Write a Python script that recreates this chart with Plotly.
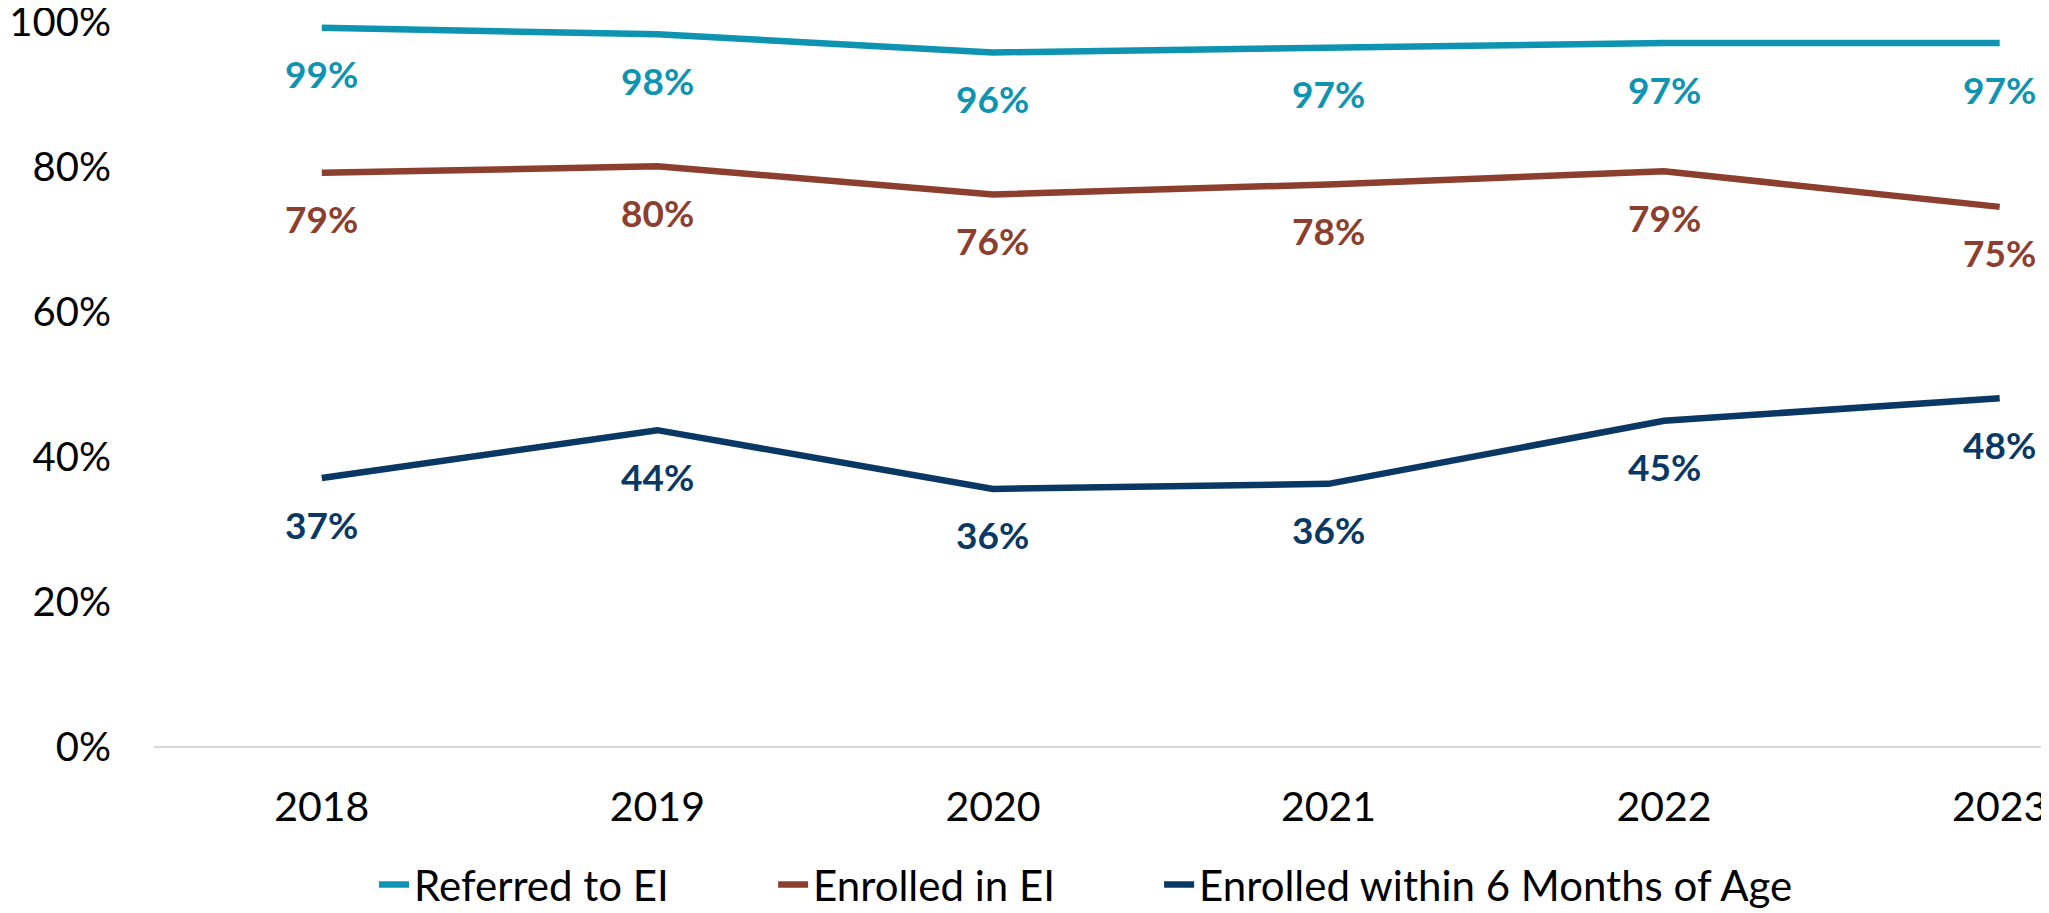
import plotly.graph_objects as go

# values
years = [2018, 2019, 2020, 2021, 2022, 2023]
referred = [99.2, 98.3, 95.8, 96.5, 97.1, 97.1]
enrolled = [79.2, 80.1, 76.2, 77.6, 79.4, 74.5]
enrolled_6mo = [37.1, 43.7, 35.6, 36.3, 45.0, 48.1]
referred_labels = ["99%", "98%", "96%", "97%", "97%", "97%"]
enrolled_labels = ["79%", "80%", "76%", "78%", "79%", "75%"]
enrolled_6mo_labels = ["37%", "44%", "36%", "36%", "45%", "48%"]

FONT = "Lato, Open Sans, sans-serif"

series = [
    ("Referred to EI", referred, referred_labels, "#0E94B0", "legend", 0.1161),
    ("Enrolled in EI", enrolled, enrolled_labels, "#8C3F2E", "legend2", 0.3267),
    ("Enrolled within 6 Months of Age", enrolled_6mo, enrolled_6mo_labels, "#0A3864", "legend3", 0.5304),
]

fig = go.Figure()
annotations = []
legends = {}
for name, vals, labels, color, leg, legx in series:
    fig.add_trace(
        go.Scatter(
            x=years,
            y=vals,
            name=name,
            mode="lines",
            line=dict(color=color, width=6.5),
            legend=leg,
        )
    )
    # data labels sit under each point
    for yr, v, lab in zip(years, vals, labels):
        annotations.append(
            dict(
                x=yr,
                y=v,
                text=f"<b>{lab}</b>",
                showarrow=False,
                yshift=-46,
                font=dict(family=FONT, size=37, color=color),
            )
        )
    legends[leg] = dict(
        orientation="h",
        x=legx,
        xanchor="left",
        xref="paper",
        y=-0.19,
        yref="paper",
        yanchor="middle",
        font=dict(family=FONT, size=42),
        bgcolor="rgba(0,0,0,0)",
    )

# page body has an 8px margin, so the figure is 8px smaller than the window
fig.update_layout(
    width=2041,
    height=905,
    margin=dict(l=146, r=0, t=14, b=166, autoexpand=False),
    plot_bgcolor="white",
    paper_bgcolor="white",
    font=dict(family=FONT, size=42, color="black"),
    annotations=annotations,
    showlegend=True,
    **legends,
)

fig.update_xaxes(
    range=[2017.5, 2023.147],
    tickvals=years,
    ticktext=[str(y) for y in years],
    showgrid=False,
    showline=False,
    zeroline=False,
    ticks="",
    ticklabelstandoff=32,
    ticklabeloverflow="allow",
    automargin=False,
    tickfont=dict(size=41),
)
fig.update_yaxes(
    range=[0, 100],
    tickvals=[0, 20, 40, 60, 80, 100],
    ticktext=["0%", "20%", "40%", "60%", "80%", "100%"],
    showgrid=False,
    zeroline=True,
    zerolinecolor="#D9D9D9",
    zerolinewidth=2,
    showline=False,
    ticks="",
    ticklabelstandoff=42,
    ticklabeloverflow="allow",
    automargin=False,
    tickfont=dict(size=40),
)

fig.write_html("out.html")
